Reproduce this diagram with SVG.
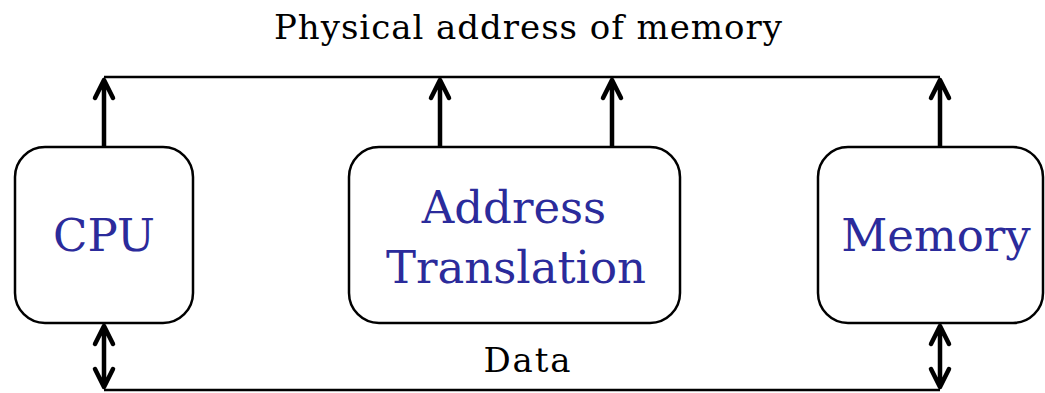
<svg xmlns="http://www.w3.org/2000/svg" width="1045" height="393" viewBox="0 0 1045 393">
<style>
.box{fill:#fff;stroke:#000;stroke-width:2.5}
.lbl{font-family:"DejaVu Serif","Liberation Serif",serif;fill:#2B2B9B;font-size:45px;text-anchor:middle}
.cap{font-family:"DejaVu Serif","Liberation Serif",serif;fill:#000;font-size:34px;text-anchor:middle}
.bus{fill:none;stroke:#000;stroke-width:2.5}
.arr{fill:none;stroke:#000;stroke-width:4.5;stroke-linecap:round;stroke-linejoin:round}
</style>
<rect width="1045" height="393" fill="#fff"/>
<text class="cap" x="528" y="39" textLength="508" lengthAdjust="spacing">Physical address of memory</text>
<g id="connectors">
<path class="bus" d="M104 77H940"/>
<path class="bus" d="M104 390H940"/>
<path class="arr" d="M104 147V80M95 98L104 80L113 98"/>
<path class="arr" d="M440 147V80M431 98L440 80L449 98"/>
<path class="arr" d="M612 147V80M603 98L612 80L621 98"/>
<path class="arr" d="M940 147V80M931 98L940 80L949 98"/>
<path class="arr" d="M104 326V387M95 344L104 326L113 344M95 369L104 387L113 369"/>
<path class="arr" d="M940 326V387M931 344L940 326L949 344M931 369L940 387L949 369"/>
</g>
<text class="cap" x="527" y="372" textLength="87" lengthAdjust="spacing">Data</text>
<g id="cpu">
<rect class="box" x="15" y="147" width="178" height="176" rx="30"/>
<text class="lbl" x="104" y="251">CPU</text>
</g>
<g id="address-translation">
<rect class="box" x="349" y="147" width="331" height="176" rx="30"/>
<text class="lbl" x="514" y="223">Address</text>
<text class="lbl" x="516" y="283">Translation</text>
</g>
<g id="memory">
<rect class="box" x="818" y="147" width="225" height="176" rx="30"/>
<text class="lbl" x="936" y="251">Memory</text>
</g>
</svg>
